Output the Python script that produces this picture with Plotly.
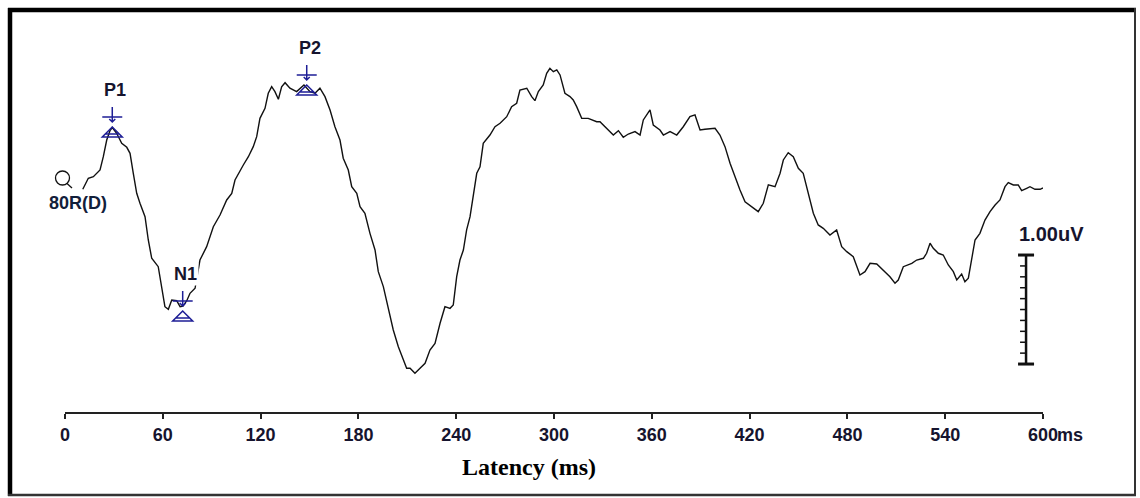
import plotly.graph_objects as go

# ---------------- data ----------------
latency_ms = [10.9, 14.3, 17.4, 21.5, 23.5, 25.6, 27.6, 29.0, 31.7, 34.8, 37.9, 39.9, 41.9, 44.0,
              46.0, 49.1, 51.1, 53.2, 57.2, 59.3, 61.3, 63.4, 65.5, 68.5, 70.6, 72.4, 74.7, 76.7,
              79.8, 82.8, 86.9, 91.0, 95.1, 99.2, 102.3, 104.3, 107.4, 109.4, 112.5, 115.5, 117.6,
              119.6, 122.7, 124.7, 126.8, 128.8, 130.9, 132.9, 135.0, 138.0, 142.1, 146.6, 150.3,
              153.4, 156.4, 159.5, 162.6, 165.6, 168.7, 170.7, 173.8, 175.9, 179.0, 181.0, 184.0,
              187.1, 190.2, 192.2, 195.3, 198.3, 201.4, 204.5, 207.5, 209.6, 211.7, 214.7, 217.8,
              220.9, 223.9, 227.0, 230.1, 233.1, 236.2, 238.2, 240.3, 242.3, 244.4, 246.4, 248.5,
              250.5, 252.6, 254.6, 256.6, 260.7, 263.8, 266.9, 271.0, 274.0, 277.1, 279.1, 283.3,
              286.3, 288.3, 290.4, 293.4, 295.5, 297.5, 299.6, 301.7, 303.7, 306.7, 309.8, 311.8,
              313.9, 317.0, 321.0, 326.2, 328.2, 332.3, 336.4, 339.5, 342.5, 345.6, 349.7, 352.8,
              354.8, 358.9, 360.9, 365.0, 367.1, 371.2, 375.3, 379.3, 383.4, 386.5, 389.6, 392.6,
              398.8, 401.8, 404.9, 408.0, 411.0, 414.1, 417.2, 422.3, 425.3, 428.4, 431.5, 435.6,
              438.7, 440.7, 443.7, 446.8, 449.9, 452.9, 456.0, 459.1, 462.1, 465.2, 469.3, 473.4,
              476.5, 479.6, 483.6, 487.7, 490.8, 493.9, 498.0, 502.0, 506.1, 509.2, 511.2, 514.3,
              519.5, 522.5, 526.6, 528.6, 530.7, 532.7, 535.8, 538.8, 541.9, 545.0, 547.1, 550.1,
              552.1, 554.2, 556.3, 558.3, 561.3, 564.4, 567.5, 570.6, 573.6, 576.7, 578.7, 581.8,
              584.8, 586.9, 590.0, 592.0, 595.1, 598.2, 600.0]
amplitude_uv = [0.043, 0.144, 0.159, 0.220, 0.342, 0.495, 0.581, 0.610, 0.557, 0.465, 0.428, 0.373,
                0.190, 0.006, -0.085, -0.208, -0.422, -0.590, -0.667, -0.850, -1.034, -1.058,
                -0.972, -0.979, -1.034, -1.028, -0.979, -0.911, -0.865, -0.606, -0.483, -0.300,
                -0.193, -0.055, 0.006, 0.128, 0.220, 0.266, 0.342, 0.434, 0.526, 0.694, 0.786,
                0.924, 0.984, 0.939, 0.869, 0.984, 1.021, 0.970, 0.939, 1.000, 0.939, 0.924,
                0.970, 0.893, 0.771, 0.617, 0.495, 0.328, 0.220, 0.067, 0.006, -0.117, -0.177,
                -0.361, -0.514, -0.713, -0.850, -1.034, -1.248, -1.401, -1.523, -1.599, -1.599,
                -1.645, -1.599, -1.553, -1.431, -1.370, -1.186, -1.034, -1.049, -1.018, -0.759,
                -0.606, -0.514, -0.330, -0.208, 0.006, 0.190, 0.250, 0.465, 0.541, 0.617, 0.649,
                0.709, 0.801, 0.832, 0.954, 0.970, 0.893, 0.856, 0.939, 1.000, 1.107, 1.153,
                1.122, 1.138, 1.092, 0.924, 0.893, 0.862, 0.801, 0.694, 0.694, 0.663, 0.663,
                0.603, 0.541, 0.581, 0.520, 0.550, 0.572, 0.541, 0.679, 0.771, 0.633, 0.587,
                0.541, 0.572, 0.541, 0.617, 0.709, 0.725, 0.587, 0.594, 0.603, 0.541, 0.434,
                0.282, 0.159, 0.037, -0.071, -0.131, -0.162, -0.085, 0.083, 0.067, 0.190, 0.312,
                0.379, 0.342, 0.236, 0.190, 0.006, -0.177, -0.284, -0.315, -0.376, -0.330, -0.483,
                -0.529, -0.575, -0.743, -0.713, -0.636, -0.642, -0.697, -0.759, -0.819, -0.789,
                -0.667, -0.636, -0.606, -0.590, -0.544, -0.452, -0.498, -0.544, -0.560, -0.651,
                -0.713, -0.789, -0.734, -0.805, -0.773, -0.606, -0.422, -0.361, -0.239, -0.162,
                -0.101, -0.055, 0.067, 0.104, 0.083, 0.083, 0.030, 0.052, 0.067, 0.043, 0.043,
                0.055]

peak_names = ["P1", "N1", "P2"]
peak_latency = [29.0, 72.2, 148.3]
peak_amp = [0.615, -1.073, 1.000]

x_tick_vals = [0, 60, 120, 180, 240, 300, 360, 420, 480, 540, 600]
x_tick_text = ["0", "60", "120", "180", "240", "300", "360", "420", "480", "540", "600"]
x_unit = "ms"
x_title = "Latency (ms)"
channel_label = "80R(D)"
scale_bar_uv = 1.0
scale_bar_label = "1.00uV"
scale_bar_divisions = 10

# ---------------- layout constants ----------------
W, H = 1140, 498
ML, MR, MT, MB = 65, 97, 20, 86
PW, PH = W - ML - MR, H - MT - MB
X_RANGE = [0, 600]
Y_RANGE = [-2.0, 1.596]
NAVY = "#1e1e96"
TXT = "#16142e"


def pxx(px):  # pixel x -> paper x
    return (px - ML) / PW


def pxy(py):  # pixel y -> paper y
    return (H - MB - py) / PH


fig = go.Figure()
fig.add_trace(go.Scatter(x=latency_ms, y=amplitude_uv, mode="lines",
                         line=dict(color="#111111", width=1.4), hoverinfo="skip",
                         showlegend=False))

shapes = []
# peak markers (cursor + triangle), anchored on each peak
marker_path = ("M0,20 L0,5 M-10,10 L10,10 M-3,8 L0,5 L3,8 "
               "M0,0 L-10,-10 L10,-10 Z M-7,-7 L7,-7")
for lat, amp in zip(peak_latency, peak_amp):
    shapes.append(dict(type="path", xref="x", yref="y", xsizemode="pixel", ysizemode="pixel",
                       xanchor=lat, yanchor=amp, path=marker_path,
                       line=dict(color=NAVY, width=1.5)))

# scale bar
scale_x = 589.6
scale_top = -0.56
scale_bot = scale_top - scale_bar_uv
shapes.append(dict(type="line", xref="x", yref="y", xsizemode="pixel", xanchor=scale_x,
                   x0=0, x1=0, y0=scale_top, y1=scale_bot, line=dict(color="#111", width=2.5)))
for yv in (scale_top, scale_bot):
    shapes.append(dict(type="line", xref="x", yref="y", xsizemode="pixel", xanchor=scale_x,
                       x0=-8, x1=8, y0=yv, y1=yv, line=dict(color="#111", width=3)))
for i in range(1, scale_bar_divisions):
    yv = scale_top - scale_bar_uv * i / scale_bar_divisions
    shapes.append(dict(type="line", xref="x", yref="y", xsizemode="pixel", xanchor=scale_x,
                       x0=-6, x1=0, y0=yv, y1=yv, line=dict(color="#111", width=1.5)))

# start circle with tail
shapes.append(dict(type="circle", xref="paper", yref="paper",
                   x0=pxx(55.5), x1=pxx(69.5), y0=pxy(185), y1=pxy(171),
                   line=dict(color="#111", width=1.3)))
shapes.append(dict(type="line", xref="paper", yref="paper",
                   x0=pxx(67), x1=pxx(72), y0=pxy(183.5), y1=pxy(188),
                   line=dict(color="#111", width=1.3)))

# outer frame
shapes += [
    dict(type="line", xref="paper", yref="paper", x0=pxx(10), x1=pxx(10), y0=pxy(8), y1=pxy(496),
         line=dict(color="#000", width=4.5)),
    dict(type="line", xref="paper", yref="paper", x0=pxx(8), x1=pxx(1136), y0=pxy(10), y1=pxy(10),
         line=dict(color="#000", width=4.5)),
    dict(type="line", xref="paper", yref="paper", x0=pxx(1135), x1=pxx(1135), y0=pxy(8), y1=pxy(496),
         line=dict(color="#333", width=2)),
    dict(type="line", xref="paper", yref="paper", x0=pxx(8), x1=pxx(1136), y0=pxy(495), y1=pxy(495),
         line=dict(color="#333", width=2.5)),
]

annotations = []
for name, lat, amp in zip(peak_names, peak_latency, peak_amp):
    annotations.append(dict(x=lat, y=amp, xref="x", yref="y", text=name, showarrow=False,
                            xanchor="center", yanchor="middle",
                            yshift=37, xshift=3, bgcolor="white", borderpad=1,
                            font=dict(family="Liberation Sans", size=18, color=TXT,
                                      weight="bold")))
annotations.append(dict(x=scale_x, y=scale_top, xref="x", yref="y", text=scale_bar_label,
                        showarrow=False, xanchor="left", yanchor="middle", xshift=-9, yshift=21,
                        font=dict(family="Liberation Sans", size=20, color=TXT, weight="bold")))
annotations.append(dict(x=pxx(78), y=pxy(203), xref="paper", yref="paper", text=channel_label,
                        showarrow=False, xanchor="center", yanchor="middle",
                        bgcolor="white", borderpad=0,
                        font=dict(family="Liberation Sans", size=18, color="#12203a",
                                  weight="bold")))
annotations.append(dict(x=X_RANGE[1], y=pxy(435), xref="x", yref="paper", text=x_unit,
                        showarrow=False, xanchor="left", yanchor="middle", xshift=12,
                        font=dict(family="Liberation Sans", size=18, color=TXT, weight="bold")))
annotations.append(dict(x=pxx(529), y=pxy(467), xref="paper", yref="paper", text=x_title,
                        showarrow=False, xanchor="center", yanchor="middle",
                        font=dict(family="Liberation Serif", size=24, color="#000",
                                  weight="bold")))

fig.update_layout(
    width=W, height=H, margin=dict(l=ML, r=MR, t=MT, b=MB),
    paper_bgcolor="white", plot_bgcolor="white", showlegend=False,
    xaxis=dict(range=X_RANGE, showgrid=False, zeroline=False, showline=True,
               linecolor="#222", linewidth=2, ticks="outside", ticklen=5, tickwidth=1.5,
               tickcolor="#222", tickvals=x_tick_vals, ticktext=x_tick_text,
               tickfont=dict(family="Liberation Sans", size=18, color=TXT, weight="bold"),
               fixedrange=True),
    yaxis=dict(range=Y_RANGE, visible=False, showgrid=False, zeroline=False, fixedrange=True),
    shapes=shapes, annotations=annotations,
)

fig.write_html("out.html")
